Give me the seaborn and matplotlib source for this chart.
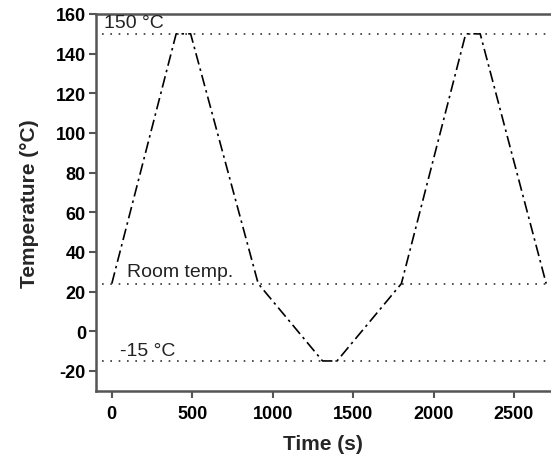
import matplotlib
matplotlib.use("Agg")
import matplotlib.pyplot as plt
import seaborn as sns
import pandas as pd

time_s = [0, 400, 490, 910, 1310, 1400, 1800, 2200, 2290, 2700]
temp_c = [24, 150, 150, 24, -15, -15, 24, 150, 150, 24]
ref_levels = [150, 24, -15]
ref_labels = ["150 °C", "Room temp.", "-15 °C"]
x_ticks = [0, 500, 1000, 1500, 2000, 2500]
y_ticks = [-20, 0, 20, 40, 60, 80, 100, 120, 140, 160]

sns.set_theme(style="ticks")
plt.rcParams['font.family'] = ['Liberation Sans', 'DejaVu Sans']
plt.rcParams['axes.unicode_minus'] = False

fig = plt.figure(figsize=(5.51, 4.60), dpi=100)
ax = fig.add_axes([0.1737, 0.1485, 0.8263, 0.8189])

df = pd.DataFrame({"Time (s)": time_s, "Temperature (°C)": temp_c})
sns.lineplot(data=df, x="Time (s)", y="Temperature (°C)", ax=ax, color="black",
             linewidth=1.2, sort=False, estimator=None)
ax.lines[0].set_dashes([7, 2.5, 1.5, 2.5])

for lvl in ref_levels:
    ax.plot([-60, 2800], [lvl, lvl], linestyle=(0, (1, 4)), color="#333333", linewidth=1.2)

ax.text(-48, 151.5, ref_labels[0], fontsize=14, ha="left", va="bottom", color="#222222")
ax.text(95, 26.0, ref_labels[1], fontsize=14, ha="left", va="bottom", color="#222222")
ax.text(52, -14.0, ref_labels[2], fontsize=14, ha="left", va="bottom", color="#222222")

ax.set_xlim(-100, 2730)
ax.set_ylim(-30, 160)
ax.set_xticks(x_ticks)
ax.set_yticks(y_ticks)
for lab in ax.get_xticklabels() + ax.get_yticklabels():
    lab.set_fontweight("bold")
    lab.set_fontsize(13)
ax.set_xlabel("Time (s)", fontsize=15, fontweight="bold", labelpad=9)
ax.set_ylabel("Temperature (°C)", fontsize=15, fontweight="bold", labelpad=12)

for s in ["left", "bottom", "top"]:
    ax.spines[s].set_color("#555555")
    ax.spines[s].set_linewidth(1.8)
ax.spines["right"].set_visible(False)
ax.tick_params(direction="out", length=5, width=1.5, color="#555555", labelcolor="black")
ax.tick_params(axis="y", pad=2)
ax.tick_params(axis="x", pad=5)

fig.savefig("out.png", dpi=100)
